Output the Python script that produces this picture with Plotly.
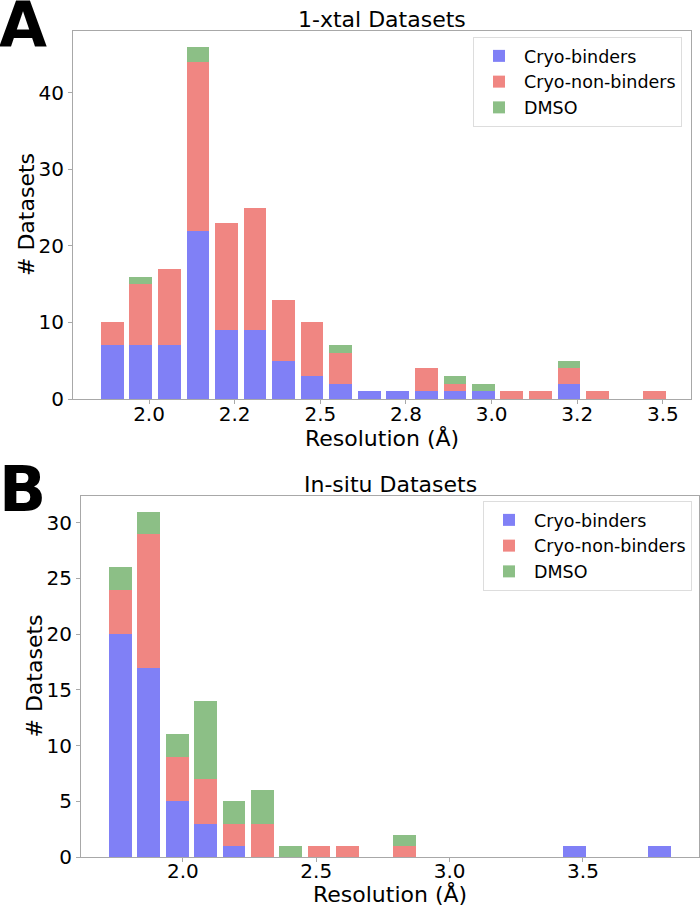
import plotly.graph_objects as go

# ---------------- data ----------------
# Panel A: 1-xtal datasets, histogram bin centres (Å) and counts
xtal_bins = [1.893, 1.976, 2.059, 2.143, 2.226, 2.309, 2.393, 2.476, 2.559, 2.643,
             2.726, 2.809, 2.893, 2.976, 3.059, 3.143, 3.226, 3.309, 3.393, 3.476]
xtal_cryo_binders = [7, 7, 7, 22, 9, 9, 5, 3, 2, 1, 1, 1, 1, 1, 0, 0, 2, 0, 0, 0]
xtal_cryo_nonbinders = [3, 8, 10, 22, 14, 16, 8, 7, 4, 0, 0, 3, 1, 0, 1, 1, 2, 1, 0, 1]
xtal_dmso = [0, 1, 0, 2, 0, 0, 0, 0, 1, 0, 0, 0, 1, 1, 0, 0, 1, 0, 0, 0]

# Panel B: in-situ datasets
insitu_bins = [1.766, 1.872, 1.979, 2.085, 2.192, 2.298, 2.404, 2.511, 2.617, 2.724,
               2.830, 2.936, 3.043, 3.149, 3.255, 3.362, 3.468, 3.575, 3.681, 3.787]
insitu_cryo_binders = [20, 17, 5, 3, 1, 0, 0, 0, 0, 0, 0, 0, 0, 0, 0, 0, 1, 0, 0, 1]
insitu_cryo_nonbinders = [4, 12, 4, 4, 2, 3, 0, 1, 1, 0, 1, 0, 0, 0, 0, 0, 0, 0, 0, 0]
insitu_dmso = [2, 2, 2, 7, 2, 3, 1, 0, 0, 0, 1, 0, 0, 0, 0, 0, 0, 0, 0, 0]

series_names = ["Cryo-binders", "Cryo-non-binders", "DMSO"]
colors = ["#8080f6", "#f08682", "#8cbf86"]

xtal_ticks = [2.0, 2.25, 2.5, 2.75, 3.0, 3.25, 3.5]
xtal_ticktext = ["2.0", "2.2", "2.5", "2.8", "3.0", "3.2", "3.5"]
insitu_ticks = [2.0, 2.5, 3.0, 3.5]
insitu_ticktext = ["2.0", "2.5", "3.0", "3.5"]

# ---------------- figure ----------------
W, H = 700, 905
FONT = "DejaVu Sans"
fig = go.Figure()

for name, col, vals in zip(series_names, colors,
                           [xtal_cryo_binders, xtal_cryo_nonbinders, xtal_dmso]):
    fig.add_trace(go.Bar(x=xtal_bins, y=vals, name=name, marker_color=col,
                         marker_line_width=0, xaxis="x", yaxis="y", legend="legend"))
for name, col, vals in zip(series_names, colors,
                           [insitu_cryo_binders, insitu_cryo_nonbinders, insitu_dmso]):
    fig.add_trace(go.Bar(x=insitu_bins, y=vals, name=name, marker_color=col,
                         marker_line_width=0, xaxis="x2", yaxis="y2", legend="legend2"))

def px_x(p):
    return p / W

def px_y(p):
    return 1 - p / H

axis_common = dict(showline=True, linecolor="#a8a8a8", linewidth=1, mirror=True,
                   ticks="outside", ticklen=4, tickcolor="#a8a8a8", showgrid=False,
                   zeroline=False, automargin=False,
                   tickfont=dict(family=FONT, size=20, color="black"))

fig.update_layout(
    width=W, height=H,
    margin=dict(l=0, r=0, t=0, b=0, pad=0, autoexpand=False),
    paper_bgcolor="white", plot_bgcolor="white",
    barmode="stack", bargap=0.2,
    font=dict(family=FONT, color="black"),
    xaxis=dict(domain=[px_x(73), px_x(691)], range=[1.778, 3.582], anchor="y",
               tickvals=xtal_ticks, ticktext=xtal_ticktext, ticklabelstandoff=-7,
               **axis_common),
    yaxis=dict(domain=[px_y(399), px_y(31)], range=[0, 48.1], anchor="x",
               tickvals=[0, 10, 20, 30, 40], **axis_common),
    xaxis2=dict(domain=[px_x(81), px_x(699)], range=[1.618, 3.935], anchor="y2",
                tickvals=insitu_ticks, ticktext=insitu_ticktext, ticklabelstandoff=-8,
                **axis_common),
    yaxis2=dict(domain=[px_y(857), px_y(496)], range=[0, 32.4], anchor="x2",
                tickvals=[0, 5, 10, 15, 20, 25, 30], **axis_common),
    legend=dict(x=px_x(682), y=px_y(37), xanchor="right", yanchor="top",
                traceorder="normal", bgcolor="white", bordercolor="#dddddd", borderwidth=1,
                font=dict(family=FONT, size=17.5), itemwidth=40),
    legend2=dict(x=px_x(692), y=px_y(501), xanchor="right", yanchor="top",
                 traceorder="normal", bgcolor="white", bordercolor="#dddddd", borderwidth=1,
                 font=dict(family=FONT, size=17.5), itemwidth=40),
)

def label(text, x, y, size=22, angle=0, xanchor="center", yanchor="middle"):
    return dict(text=text, x=px_x(x), y=px_y(y), xref="paper", yref="paper",
                xanchor=xanchor, yanchor=yanchor, textangle=angle, showarrow=False,
                font=dict(family=FONT, size=size, color="black"))

annotations = [
    label("1-xtal Datasets", (73 + 691) / 2, 20),
    label("In-situ Datasets", (81 + 699) / 2, 485),
    label("Resolution (Å)", (73 + 691) / 2, 438),
    label("Resolution (Å)", (81 + 699) / 2, 894),
    label("# Datasets", 27, 215, angle=-90),
    label("# Datasets", 34, (496 + 857) / 2, angle=-90),
    label("<b>A</b>", -3, 24, size=62, xanchor="left"),
    label("<b>B</b>", -3, 489, size=62, xanchor="left"),
]
fig.update_layout(annotations=annotations)

fig.write_html("out.html", config={"displayModeBar": False},
               post_script="document.body.style.margin='0px';")
